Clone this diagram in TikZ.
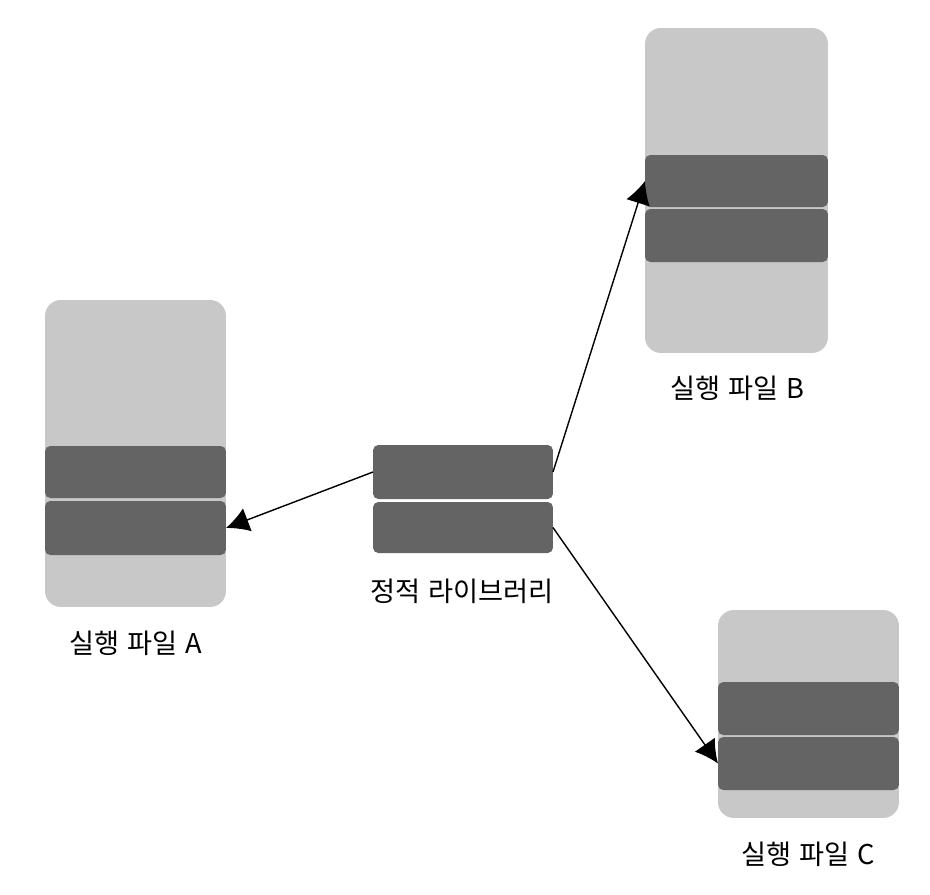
\documentclass[tikz,border=0pt]{standalone}
\usepackage{fontspec}
\setmainfont[WordSpace=1.3]{Noto Sans CJK KR}
\usetikzlibrary{arrows.meta}
\definecolor{filegray}{RGB}{200,200,200}
\definecolor{bandgray}{RGB}{100,100,100}

\begin{document}
\begin{tikzpicture}[x=0.02cm,y=-0.02cm,
  filebox/.style={fill=filegray,rounded corners=9pt,inner sep=0,outer sep=0,anchor=north west},
  bandbox/.style={fill=bandgray,rounded corners=3pt,inner sep=0,outer sep=0,anchor=north west},
  lbl/.style={font=\fontsize{15.5}{18}\selectfont},
  link/.style={-{Latex[length=13pt,width=14pt]},line width=0.8pt}]
\useasboundingbox (0,0) rectangle (930,894);
% executable A
\node[filebox,minimum width=3.62cm,minimum height=6.14cm] (fa) at (45,300) {};
\node[bandbox,minimum width=3.62cm,minimum height=1.04cm] (a1) at (45,446) {};
\node[bandbox,minimum width=3.62cm,minimum height=1.08cm] (a2) at (45,501) {};
\node[lbl] (la) at (136,643) {실행 파일 A};
% executable B
\node[filebox,minimum width=3.66cm,minimum height=6.5cm] (fb) at (645,28) {};
\node[bandbox,minimum width=3.66cm,minimum height=1.04cm] (b1) at (645,155) {};
\node[bandbox,minimum width=3.66cm,minimum height=1.06cm] (b2) at (645,209) {};
\node[lbl] (lb) at (737,388) {실행 파일 B};
% executable C
\node[filebox,minimum width=3.62cm,minimum height=4.16cm] (fc) at (718,610) {};
\node[bandbox,minimum width=3.62cm,minimum height=1.06cm] (c1) at (718,682) {};
\node[bandbox,minimum width=3.62cm,minimum height=1.06cm] (c2) at (718,737) {};
\node[lbl] (lc) at (808,854) {실행 파일 C};
% static library
\node[bandbox,minimum width=3.6cm,minimum height=1.08cm] (l1) at (373,445) {};
\node[bandbox,minimum width=3.6cm,minimum height=1.02cm] (l2) at (373,502) {};
\node[lbl] (ll) at (462,591) {정적 라이브러리};
\draw[link] (l1.west) -- (a2.east);
\draw[link] (l1.east) -- (b1.west);
\draw[link] (l2.east) -- (c2.west);
\end{tikzpicture}
\end{document}
